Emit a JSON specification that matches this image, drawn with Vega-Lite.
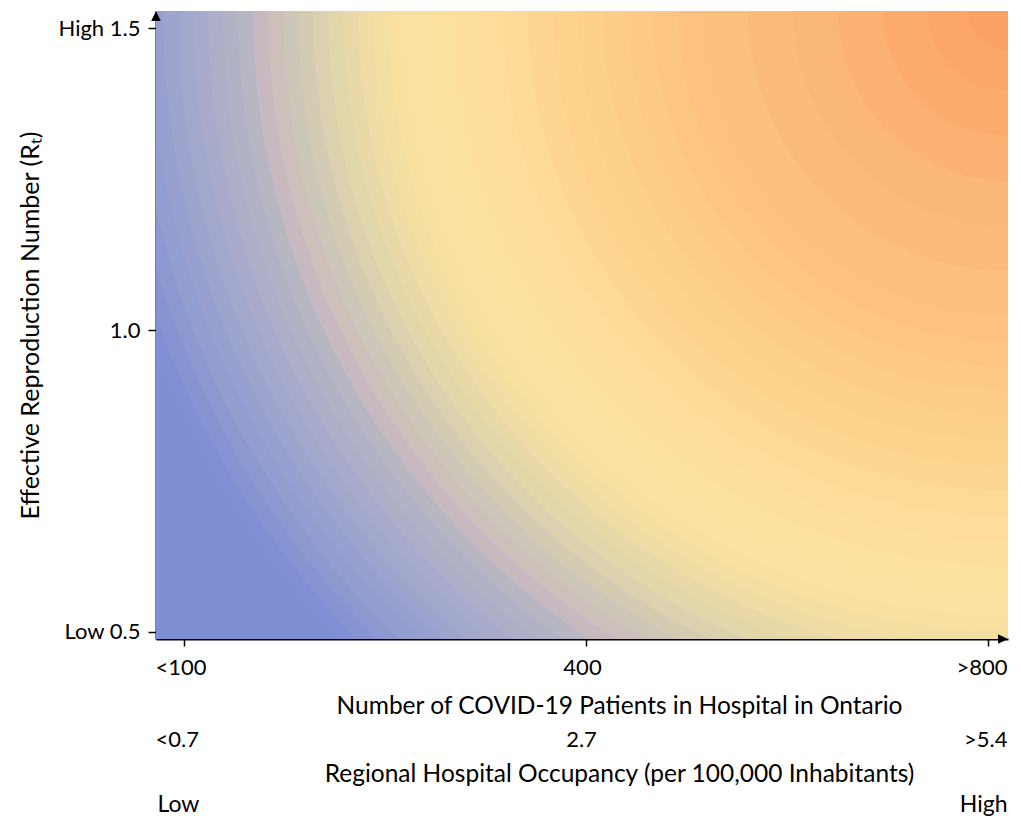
{
  "$schema": "https://vega.github.io/schema/vega-lite/v6.json",
  "width": 852,
  "height": 628,
  "autosize": "none",
  "padding": {"left": 156, "top": 11, "right": 13, "bottom": 181},
  "background": "white",
  "config": {
    "view": {"stroke": null},
    "font": "Lato",
    "axis": {"labelFont": "Lato", "titleFont": "Lato", "labelColor": "black", "titleColor": "black", "titleFontWeight": "normal", "domainColor": "black", "tickColor": "black", "grid": false}
  },
  "resolve": {"axis": {"x": "independent"}},
  "layer": [
    {
      "data": {"values": [
        {"distance": 11.0}, {"distance": 9.2}, {"distance": 9.05}, {"distance": 8.9}, {"distance": 8.75},
        {"distance": 8.6}, {"distance": 8.45}, {"distance": 8.3}, {"distance": 8.15}, {"distance": 8.0},
        {"distance": 7.85}, {"distance": 7.7}, {"distance": 7.55}, {"distance": 7.4}, {"distance": 7.25},
        {"distance": 7.1}, {"distance": 6.95}, {"distance": 6.8}, {"distance": 6.65}, {"distance": 6.5},
        {"distance": 6.35}, {"distance": 6.2}, {"distance": 6.05}, {"distance": 5.8}, {"distance": 5.55},
        {"distance": 5.3}, {"distance": 5.05}, {"distance": 4.8}, {"distance": 4.55}, {"distance": 4.3},
        {"distance": 4.05}, {"distance": 3.8}, {"distance": 3.55}, {"distance": 3.3}, {"distance": 3.05},
        {"distance": 2.6}, {"distance": 2.15}, {"distance": 1.7}, {"distance": 1.25}, {"distance": 0.8},
        {"distance": 0.4}
      ]},
      "mark": {"type": "point", "filled": true, "opacity": 1, "clip": true, "strokeWidth": 0, "shape": "circle"},
      "encoding": {
        "x": {"datum": 2.0498, "type": "quantitative",
          "scale": {"domain": [-0.0697, 2.0498], "nice": false, "zero": false},
          "axis": {
            "orient": "bottom", "values": [0, 1, 2],
            "labelExpr": "datum.value == 0 ? '<100' : datum.value == 1 ? '400' : '>800'",
            "title": "Number of COVID-19 Patients in Hospital in Ontario",
            "titleX": 463, "titleFontSize": 24.5, "titlePadding": 16,
            "labelFontSize": 22, "labelPadding": 11, "tickSize": 7, "tickWidth": 1.5, "domainWidth": 2,
            "labelAlign": {"condition": [{"test": "datum.value == 0", "value": "left"}, {"test": "datum.value == 2", "value": "right"}], "value": "center"},
            "labelOffset": {"condition": [{"test": "datum.value == 0", "value": -29}, {"test": "datum.value == 2", "value": 19}], "value": -4}
          }},
        "y": {"datum": 1.52815, "type": "quantitative",
          "scale": {"domain": [0.48841, 1.52815], "nice": false, "zero": false},
          "axis": {
            "values": [0.5, 1, 1.5],
            "labelExpr": "abs(datum.value - 1.5) < 0.01 ? 'High 1.5' : abs(datum.value - 0.5) < 0.01 ? 'Low 0.5' : '1.0'",
            "title": "Effective Reproduction Number (Rₜ)",
            "titleFontSize": 25, "titlePadding": 15,
            "labelFontSize": 22, "labelPadding": 8, "tickSize": 8, "tickWidth": 1.5, "domainWidth": 2
          }},
        "size": {"field": "distance", "type": "quantitative", "scale": {"type": "pow", "exponent": 2, "domain": [0, 11], "range": [0, 4840000]}, "legend": null},
        "color": {"field": "distance", "type": "quantitative", "legend": null,
          "scale": {
            "domain": [0, 0.6, 1.1, 1.6, 2.1, 2.6, 3.1, 3.6, 4.1, 4.5, 4.9, 5.3, 5.7, 6.1, 6.5, 6.9, 7.3, 7.7, 8.1, 8.5, 8.9, 9.25, 11],
            "range": ["#fb9d60", "#fca466", "#fca96c", "#fbb073", "#fab677", "#fcbb7b", "#fdc07f", "#fdc685", "#fdcd89", "#fdd28d", "#fdd893", "#fddd99", "#fddf9c", "#fbe19f", "#f0dda5", "#ddd3ad", "#c9c5b9", "#b7b7c3", "#a9abca", "#9ba3ce", "#8c99d1", "#7f8fd4", "#7f8fd4"]
          }},
        "order": {"field": "distance", "type": "quantitative", "sort": "descending"}
      }
    },
    {
      "data": {"values": [{"arrow": "y"}]},
      "mark": {"type": "point", "filled": true, "opacity": 1, "color": "black", "strokeWidth": 0, "shape": "M0,-1L0.6,0.25L-0.6,0.25Z", "size": 256},
      "encoding": {
        "x": {"datum": -0.0697, "type": "quantitative",
          "axis": {
            "orient": "bottom", "offset": 90, "values": [0, 1, 2],
            "labelExpr": "datum.value == 0 ? '<0.7' : datum.value == 1 ? '2.7' : '>5.4'",
            "title": "Regional Hospital Occupancy (per 100,000 Inhabitants)",
            "titleX": 463, "titleFontSize": 24.5, "titlePadding": 12,
            "labelFontSize": 22, "labelPadding": 0, "domain": false, "ticks": false, "tickSize": 0,
            "labelAlign": {"condition": [{"test": "datum.value == 0", "value": "left"}, {"test": "datum.value == 2", "value": "right"}], "value": "center"},
            "labelOffset": {"condition": [{"test": "datum.value == 0", "value": -29}, {"test": "datum.value == 2", "value": 19}], "value": -5}
          }},
        "y": {"datum": 1.5149, "type": "quantitative"}
      }
    },
    {
      "data": {"values": [{"arrow": "x"}]},
      "mark": {"type": "point", "filled": true, "opacity": 1, "color": "black", "strokeWidth": 0, "shape": "M1,0L-0.25,0.6L-0.25,-0.6Z", "size": 256},
      "encoding": {
        "x": {"datum": 2.030, "type": "quantitative",
          "axis": {
            "orient": "bottom", "offset": 154, "values": [0, 2],
            "labelExpr": "datum.value == 0 ? 'Low' : 'High'",
            "title": null,
            "labelFontSize": 23, "labelPadding": 0, "domain": false, "ticks": false, "tickSize": 0,
            "labelAlign": {"condition": [{"test": "datum.value == 0", "value": "left"}], "value": "right"},
            "labelOffset": {"condition": [{"test": "datum.value == 0", "value": -27}], "value": 19}
          }},
        "y": {"datum": 0.48841, "type": "quantitative"}
      }
    }
  ]
}
